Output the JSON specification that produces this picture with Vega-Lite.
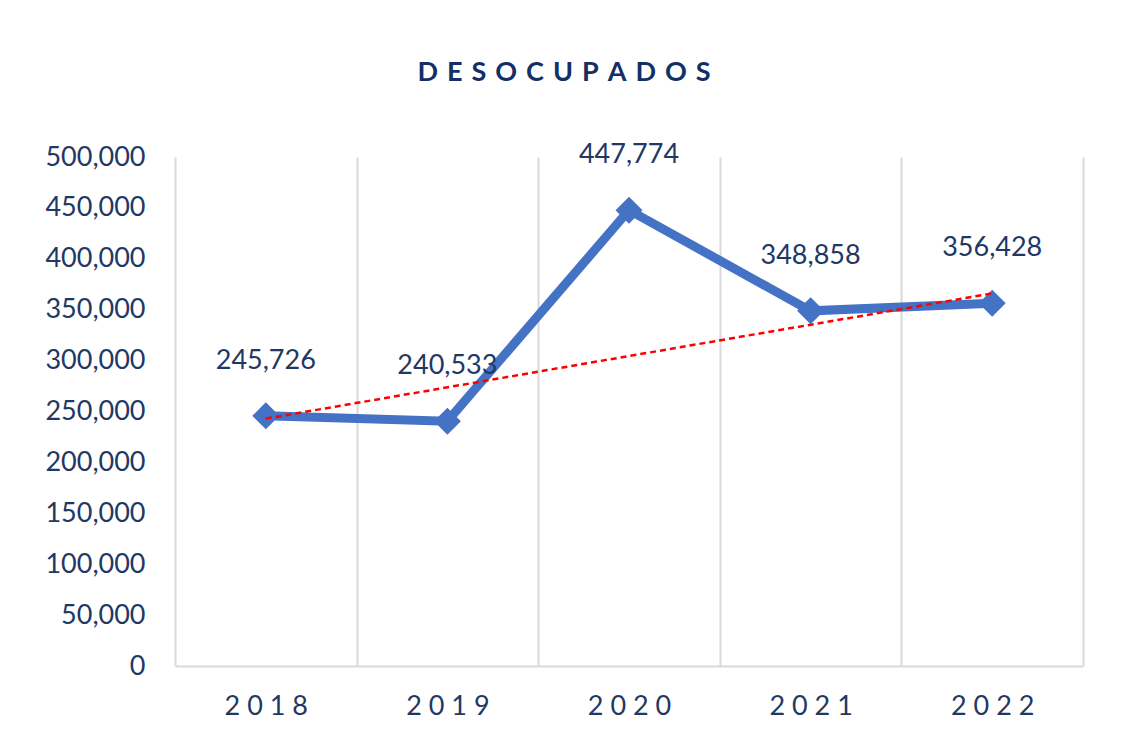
{
  "$schema": "https://vega.github.io/schema/vega-lite/v6.json",
  "width": 908,
  "height": 509,
  "autosize": {"type": "none"},
  "padding": {"left": 175, "top": 157, "right": 46, "bottom": 85},
  "background": "white",
  "config": {"view": {"stroke": null}, "font": "Lato"},
  "title": {
    "text": "D\u2004E\u2004S\u2004O\u2004C\u2004U\u2004P\u2004A\u2004D\u2004O\u2004S",
    "anchor": "middle",
    "frame": "bounds",
    "fontSize": 27,
    "fontWeight": "bold",
    "color": "#142F66",
    "font": "Lato",
    "offset": 54
  },
  "datasets": {
    "main": [
      {"year": "2018", "value": 245726},
      {"year": "2019", "value": 240533},
      {"year": "2020", "value": 447774},
      {"year": "2021", "value": 348858},
      {"year": "2022", "value": 356428}
    ],
    "trend": [
      {"year": "2018", "value": 243000},
      {"year": "2022", "value": 366000}
    ]
  },
  "data": {"name": "main"},
  "encoding": {
    "x": {
      "field": "year",
      "type": "nominal",
      "sort": null,
      "scale": {"type": "band", "paddingInner": 0, "paddingOuter": 0},
      "axis": {
        "title": null,
        "labelAngle": 0,
        "labelExpr": "join(split(datum.label, ''), ' ')",
        "labelFontSize": 27,
        "labelColor": "#1F3864",
        "labelPadding": 27,
        "ticks": false,
        "tickBand": "extent",
        "grid": true,
        "gridColor": "#D9D9D9",
        "gridWidth": 2,
        "domain": true,
        "domainColor": "#D9D9D9",
        "domainWidth": 2
      }
    },
    "y": {
      "field": "value",
      "type": "quantitative",
      "scale": {"domain": [0, 500000], "nice": false},
      "axis": {
        "title": null,
        "values": [0, 50000, 100000, 150000, 200000, 250000, 300000, 350000, 400000, 450000, 500000],
        "format": ",d",
        "labelFontSize": 27,
        "labelColor": "#1F3864",
        "labelPadding": 30,
        "ticks": false,
        "domain": false,
        "grid": false
      }
    }
  },
  "layer": [
    {
      "mark": {"type": "line", "color": "#4472C4", "strokeWidth": 9, "strokeJoin": "miter"}
    },
    {
      "mark": {"type": "point", "shape": "diamond", "filled": true, "size": 730, "color": "#4472C4", "opacity": 1}
    },
    {
      "data": {"name": "trend"},
      "mark": {"type": "line", "color": "#FF0000", "strokeWidth": 2.5, "strokeDash": [6, 4]}
    },
    {
      "mark": {"type": "text", "fontSize": 27, "color": "#1F3864", "baseline": "middle", "dy": -55},
      "encoding": {"text": {"field": "value", "type": "quantitative", "format": ",d"}}
    }
  ]
}
